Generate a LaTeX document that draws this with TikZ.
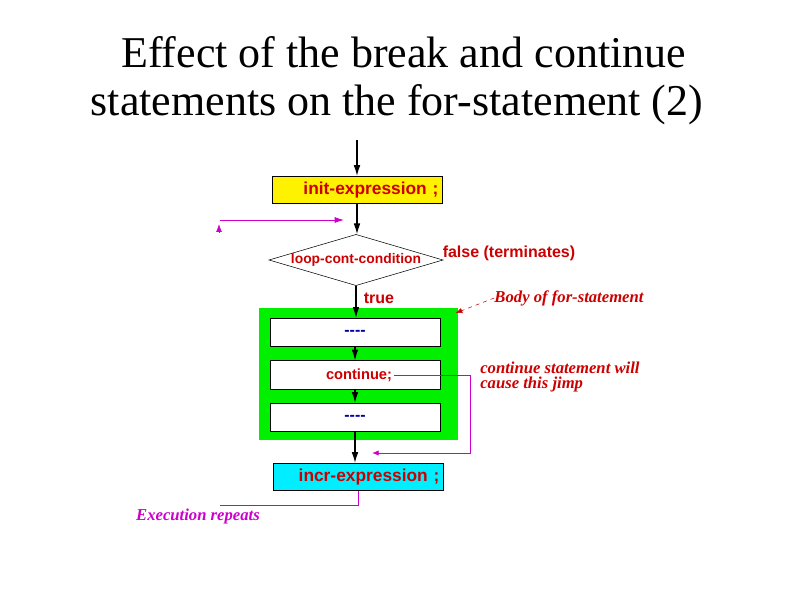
\documentclass[tikz,border=0pt]{standalone}
\usepackage{fontspec}
\setmainfont{Liberation Serif}
\setsansfont{Liberation Sans}
\usetikzlibrary{arrows.meta,shapes.geometric}
\definecolor{lblred}{RGB}{204,0,0}
\definecolor{jmpmag}{RGB}{204,0,204}
\definecolor{bodygreen}{RGB}{0,240,0}
\definecolor{incrcyan}{RGB}{0,238,255}
\definecolor{dashblue}{RGB}{0,0,170}

\begin{document}
\begin{tikzpicture}[x=0.75pt,y=-0.75pt,
  every node/.style={font=\sffamily\bfseries\fontsize{12}{14}\selectfont},
  flow/.style={-{Latex[length=8pt,width=5pt]},line width=.8pt},
  jump/.style={jmpmag,line width=.6pt},
  exprbox/.style={draw,line width=.7pt,minimum width=127.5pt,minimum height=20.5pt,text width=122pt,align=right,text=lblred,inner sep=0pt,font=\sffamily\bfseries\fontsize{13}{15}\selectfont},
  inbox/.style={draw,fill=white,line width=.7pt,minimum width=127.5pt,minimum height=21.5pt,inner sep=0pt},
  note/.style={font=\rmfamily\bfseries\itshape\fontsize{12.5}{11}\selectfont,text=lblred,align=left,inner sep=0pt}]
\useasboundingbox (0,0) rectangle (794,595);
\node[font=\rmfamily\fontsize{33}{36}\selectfont,align=center] (title) at (397,81) {\hspace*{0.3em}Effect of the break and continue\\statements on the for-statement (2)};
% flowchart
\node[exprbox,fill=yellow] (init) at (357,190) {init-expression ;};
\node[diamond,draw,line width=.4pt,aspect=3.4,minimum width=127.5pt,minimum height=37.5pt,inner sep=0pt,text=lblred,font=\sffamily\bfseries\fontsize{10.4}{12}\selectfont] (cond) at (356,260) {loop-cont-condition};
\node[fill=bodygreen,minimum width=149.25pt,minimum height=99pt,inner sep=0pt] (body) at (358.5,374) {};
\node[inbox,text=dashblue] (stepa) at (355,332.5) {{-}{-}{-}{-}};
\node[inbox] (stepb) at (355,375) {};
\node[text=lblred,inner sep=1pt,font=\sffamily\bfseries\fontsize{11}{13}\selectfont] (contkw) at (359,375) {continue;};
\node[inbox,text=dashblue] (stepc) at (355,417.5) {{-}{-}{-}{-}};
\node[exprbox,fill=incrcyan] (incr) at (358,477) {incr-expression ;};
% labels
\node[text=lblred] (truelbl) at (379,298) {true};
\node[text=lblred] (falselbl) at (509,253) {false (terminates)};
\node[note] (bodylbl) at (569,298) {Body of for-statement};
\node[note,anchor=west] (contnote) at (480,377) {continue statement will\\cause this jimp};
\node[note,text=jmpmag] (rptlbl) at (198,516) {Execution repeats};
% arrows
\coordinate (entry) at (357,140);
\draw[flow] (entry) -- (init.north);
\draw[flow] (init.south) -- (init.south |- cond.north);
\draw[flow] (cond.south) -- (cond.south |- stepa.north);
\draw[flow] (stepa) -- (stepb);
\draw[flow] (stepb) -- (stepc);
\draw[flow] (stepc.south) -- (stepc.south |- incr.north);
\draw[lblred,dashed,line width=.4pt,-{Latex[length=5pt,width=4pt]}] (bodylbl.west) -- ([xshift=-2pt,yshift=-4pt]body.north east);
% magenta jumps
\coordinate (jmpturn) at (470,375);
\coordinate (jmpend) at (372,453);
\draw[jump,-{Latex[length=5pt,width=4pt]}] (contkw.east) -- (jmpturn) |- (jmpend);
\coordinate (rptend) at (220,505);
\draw[jump] (incr.south) |- (rptend);
\coordinate (loopup) at (219,233);
\coordinate (looptip) at (219,224);
\draw[jump,-{Latex[length=6pt,width=4.5pt]}] (loopup) -- (looptip);
\coordinate (loopa) at (220,220);
\coordinate (loopb) at (344,220);
\draw[jump,-{Latex[length=7pt,width=4.5pt]}] (loopa) -- (loopb);
\end{tikzpicture}
\end{document}
